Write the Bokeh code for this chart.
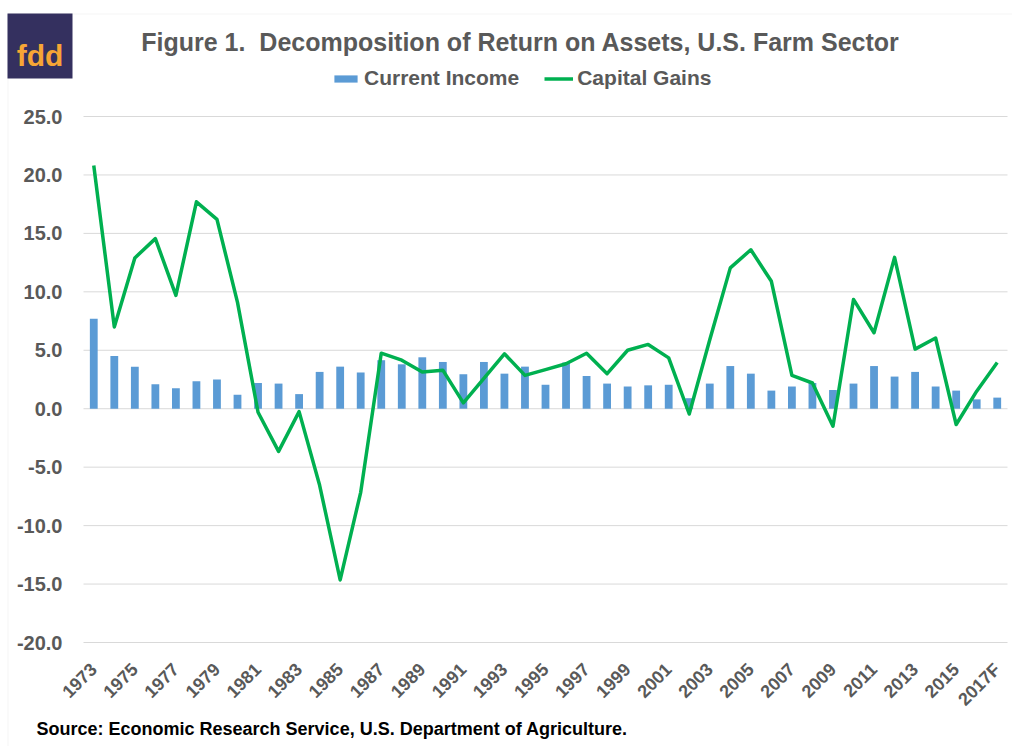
import math
from bokeh.plotting import figure
from bokeh.models import (Range1d, FixedTicker, NumeralTickFormatter, Label,
                          BoxAnnotation, Legend, LegendItem, ColumnDataSource)
from bokeh.embed import file_html
from bokeh.resources import INLINE

# ---------------- data ----------------
years = ['1973', '1974', '1975', '1976', '1977', '1978', '1979', '1980', '1981', '1982',
         '1983', '1984', '1985', '1986', '1987', '1988', '1989', '1990', '1991', '1992',
         '1993', '1994', '1995', '1996', '1997', '1998', '1999', '2000', '2001', '2002',
         '2003', '2004', '2005', '2006', '2007', '2008', '2009', '2010', '2011', '2012',
         '2013', '2014', '2015', '2016', '2017F']

current_income = [7.7, 4.5, 3.6, 2.1, 1.75, 2.35, 2.5, 1.2, 2.2, 2.15,
                  1.25, 3.15, 3.6, 3.1, 4.15, 3.8, 4.4, 4.0, 2.95, 4.0,
                  3.0, 3.6, 2.05, 3.95, 2.8, 2.15, 1.9, 2.0, 2.05, 0.9,
                  2.15, 3.65, 3.0, 1.55, 1.9, 2.2, 1.6, 2.15, 3.65, 2.75,
                  3.15, 1.9, 1.55, 0.8, 0.95]

capital_gains = [20.8, 7.0, 12.9, 14.55, 9.7, 17.7, 16.2, 9.1, -0.3, -3.65,
                 -0.25, -6.55, -14.65, -7.15, 4.75, 4.15, 3.15, 3.3, 0.5, 2.6,
                 4.7, 2.85, 3.35, 3.85, 4.75, 3.0, 5.0, 5.5, 4.35, -0.45,
                 5.9, 12.05, 13.6, 10.9, 2.85, 2.2, -1.5, 9.35, 6.5, 12.95,
                 5.1, 6.05, -1.35, 1.5, 3.95]

y_ticks = [-20, -15, -10, -5, 0, 5, 10, 15, 20, 25]
x_tick_labels = years[::2]

title_text = "Figure 1.\u00a0 Decomposition of Return on Assets, U.S. Farm Sector"
source_text = "Source: Economic Research Service, U.S. Department of Agriculture."

# ---------------- layout (pixels) ----------------
W, H = 1012, 746
PLOT_L, PLOT_R, PLOT_T, PLOT_B = 83, 1007, 116, 642
FONT = "Liberation Sans"
GRAY = "#595959"

n = len(years)
y_lo, y_hi = min(y_ticks), max(y_ticks)
cat_px = (PLOT_R - PLOT_L) / n
unit_px = (PLOT_B - PLOT_T) / (y_hi - y_lo)
x_start = -0.5 - PLOT_L / cat_px
x_end = (n - 0.5) + (W - PLOT_R) / cat_px
y_end = y_hi + PLOT_T / unit_px
y_start = y_lo - (H - PLOT_B) / unit_px


def sy(y_canvas):
    """canvas y (from top) -> screen y (from frame bottom)"""
    return H - y_canvas


p = figure(width=W, height=H, output_backend="svg", toolbar_location=None,
           x_range=Range1d(x_start, x_end), y_range=Range1d(y_start, y_end),
           min_border=0, min_border_left=0, min_border_right=0,
           min_border_top=0, min_border_bottom=0)
p.background_fill_color = "white"
p.border_fill_color = "white"
p.outline_line_color = None
p.grid.visible = False

idx = list(range(n))
src = ColumnDataSource(dict(idx=idx, year=years, ci=current_income, cg=capital_gains))

# horizontal gridlines at the y ticks, limited to the plot area
p.segment(x0=[-0.5] * len(y_ticks), x1=[n - 0.5] * len(y_ticks), y0=y_ticks, y1=y_ticks,
          line_color="#D9D9D9", line_width=1)

bars = p.vbar(x='idx', top='ci', bottom=0, width=0.38, source=src,
              fill_color="#5B9BD5", line_color=None)
line = p.line(x='idx', y='cg', source=src, line_color="#00B050",
              line_width=3.5, line_join="round")

# x axis (fixed at the bottom of the value range)
tick_idx = [years.index(t) for t in x_tick_labels]
p.xaxis.fixed_location = y_lo
p.xaxis.ticker = FixedTicker(ticks=tick_idx)
p.xaxis.major_label_overrides = {i: years[i] for i in tick_idx}
p.xaxis.major_label_orientation = math.pi / 4
p.xaxis.axis_line_color = None
p.xaxis.major_tick_line_color = None
p.xaxis.minor_tick_line_color = None
p.xaxis.major_label_standoff = 18
p.xaxis.major_label_text_font = FONT
p.xaxis.major_label_text_font_style = "bold"
p.xaxis.major_label_text_font_size = "18px"
p.xaxis.major_label_text_color = GRAY

# y axis (fixed at the left edge of the categories)
p.yaxis.fixed_location = -0.5
p.yaxis.ticker = FixedTicker(ticks=y_ticks)
p.yaxis.formatter = NumeralTickFormatter(format="0.0")
p.yaxis.axis_line_color = None
p.yaxis.major_tick_line_color = None
p.yaxis.minor_tick_line_color = None
p.yaxis.major_label_standoff = 15
p.yaxis.major_label_text_font = FONT
p.yaxis.major_label_text_font_style = "bold"
p.yaxis.major_label_text_font_size = "20px"
p.yaxis.major_label_text_color = GRAY

# legend
legend = Legend(items=[LegendItem(label="Current Income", renderers=[bars]),
                       LegendItem(label="Capital Gains", renderers=[line])],
                orientation="horizontal", location=(331, sy(90)),
                padding=0, margin=0, spacing=25, label_standoff=4,
                glyph_width=29, glyph_height=9, label_height=20,
                border_line_color=None, background_fill_alpha=0,
                label_text_font=FONT, label_text_font_style="bold",
                label_text_font_size="21px", label_text_color=GRAY)
p.add_layout(legend)

# outer chart border
p.add_layout(BoxAnnotation(left=7.5, right=W + 20, top=sy(13.5), bottom=-20,
                           left_units="screen", right_units="screen",
                           top_units="screen", bottom_units="screen",
                           fill_alpha=0, line_color="#D9D9D9", line_width=1))

# logo
p.add_layout(BoxAnnotation(left=7, right=72, top=sy(13), bottom=sy(78),
                           left_units="screen", right_units="screen",
                           top_units="screen", bottom_units="screen",
                           fill_color="#34305F", fill_alpha=1, line_color=None))
p.add_layout(Label(x=39.5, y=sy(55), x_units="screen", y_units="screen",
                   text="fdd", text_align="center", text_baseline="alphabetic",
                   text_font=FONT, text_font_style="bold", text_font_size="30px",
                   text_color="#F7A535"))

# title
p.add_layout(Label(x=520, y=sy(41), x_units="screen", y_units="screen",
                   text=title_text, text_align="center", text_baseline="middle",
                   text_font=FONT, text_font_style="bold", text_font_size="25px",
                   text_color=GRAY))

# source
p.add_layout(Label(x=36, y=sy(728), x_units="screen", y_units="screen",
                   text=source_text, text_align="left", text_baseline="middle",
                   text_font=FONT, text_font_style="bold", text_font_size="18px",
                   text_color="black"))

open("out.html", "w").write(file_html(p, INLINE))
